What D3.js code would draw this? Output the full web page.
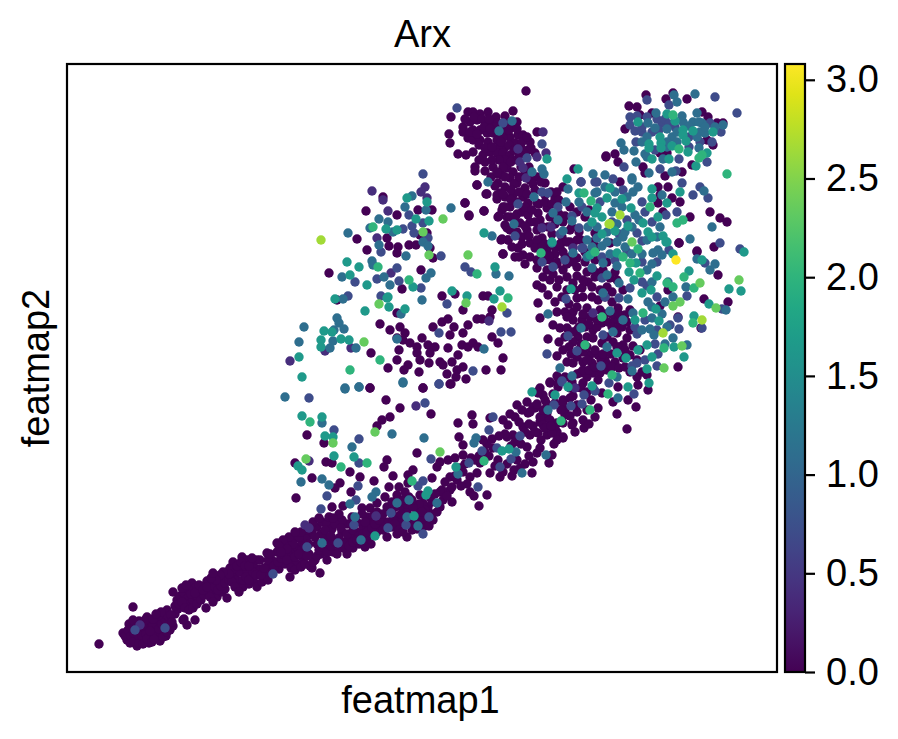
<!DOCTYPE html>
<html>
<head>
<meta charset="utf-8">
<script src="https://cdn.jsdelivr.net/npm/d3@7"></script>
<style>
html,body{margin:0;padding:0;background:#fff}
svg{display:block}
text{font-family:"Liberation Sans",Arial,sans-serif;fill:#000}
</style>
</head>
<body>
<svg id="chart" width="898" height="739"></svg>
<script>
// Embedding of single cells, coloured by Arx expression.
const geneName = "Arx";
const xLabel = "featmap1";
const yLabel = "featmap2";
const colorTicks = [0, 0.5, 1, 1.5, 2, 2.5, 3];
const exprMax = 3.08;

// Expression level of each group below; groups are painted low to high.
const exprLevels = [0, 0.4, 0.7, 1.1, 1.65, 2.0, 2.35, 2.65, 3.08];

const cellsL0 = [[32,28],[66,65],[56,39],[60,32],[62,48],[65,43],[63,29],[70,26],[69,35],[73,42],[77,50],[80,55],[78,44],[74,31],[82,29],[84,36],[87,42],[90,47],[92,52],[95,55],[97,59],[100,62],[94,40],[90,35],[93,31],[99,36],[103,42],[106,46],[103,52],[100,47],[97,44],[108,58],[111,63],[117,53],[128,52],[120,47],[106,80],[125,89],[139,64],[116,52],[160,74],
[110,72],[113,76],[117,79],[120,73],[123,68],[126,72],[130,75],[133,81],[137,86],[140,91],[128,84],[122,82],[144,87],[147,79],[150,75],[155,80],[158,83],[152,90],[157,94],[160,100],[163,104],[166,97],[170,92],[173,100],[176,106],[180,100],[184,95],[187,90],[171,86],[176,85],[182,88],[190,85],[195,90],[198,97],[192,103],[186,108],[190,112],[175,115],[166,110],[180,112],[193,112],[200,119],[210,129],[228,134],[223,95],[201,92],[253,99],[245,104],
[200,105],[205,112],[210,120],[215,125],[220,128],[225,120],[230,125],[235,130],[240,135],[245,140],[250,145],[255,150],[260,148],[265,143],[270,150],[275,140],[205,100],[212,103],[218,108],[224,112],[230,108],[236,114],[242,118],[248,112],[254,118],[260,112],[266,120],[272,126],[278,130],[284,135],[290,140],[296,146],[220,118],[235,122],[250,128],[262,132],[270,118],[280,118],[286,124],[292,128],[300,132],[306,138],[312,145],[318,150],
[303,284],[319,272],[333,264],[356,284],[364,258],[384,288],[323,255],[315,252],[310,246],[240,237],[257,229],[228,209],[259,210],[265,209],[245,194],[229,174],[283,200],[293,195],[273,189],[268,184],[307,191],[320,212],[317,205],[326,196],[322,185],[284,180],[276,166],[265,165],[295,164],[303,164],[310,169],[318,175],[330,177],[341,189],[346,202],[341,197],[350,219],[365,194],[361,165],[385,170],[373,165],[403,180],[407,176],[420,177],[412,166],[383,182],[375,182],[370,205],[373,210],[381,212],[388,214],[396,217],[396,227],[392,235],[391,249],[405,257],[406,248],[423,254],[425,233],[443,258],[450,267],[460,270],[468,264],[461,259],[441,247],[456,245],[446,237],[440,235],[463,237],[471,239],[480,237],[490,240],[496,234],[487,228],[473,224],[470,219],[466,210],[485,217],[482,209],[465,199],[445,196],[453,204],[426,224],[431,212],[433,195],[423,199],[413,209],[403,195],[410,199],[393,204],[383,195],[378,190],[356,169],[353,177],[363,175],[373,180],[476,277],[483,290],[491,285],[496,272],[503,274],[506,249],[498,262],[480,254],[473,250],[490,249],
[330,172],[335,165],[340,160],[345,155],[320,165],[325,160],[330,155],[335,150],[340,148],[345,142],[350,150],[355,145],[360,150],[365,158],[350,160],[340,168],[310,160],[315,150],[305,150],[300,155],[310,140],[300,145],[325,145],[330,138],[320,135],[340,135],[290,150],[295,158],[285,155],[280,148],[275,152],[268,148],[262,155],[272,158],
[299,461],[330,457],[290,433],[300,422],[262,399],[316,475],[320,434],[322,426],[331,425],[330,419],[342,427],[349,427],[353,437],[360,439],[365,462],[351,462],[363,424],[366,414],[354,402],[335,383],[375,376],[388,378],[398,469],[402,456],[417,461],[410,487],[419,478],[430,473],[433,479],[436,465],[440,455],[431,455],[440,444],[435,433],[441,432],[436,418],[396,362],[416,376],[421,376],[425,362],[423,355],[410,353],[415,353],[270,372],[313,348],[330,359],[323,342],[333,345],[338,339],[330,334],[336,332],[343,329],[355,334],[350,325],[361,327],[368,325],[366,345],[375,350],[381,353],[387,345],[383,337],[381,324],[395,327],[401,325],[406,329],[401,347],[396,339],[411,325],[425,335],[431,329],[332,322],[304,319],[330,312],[341,307],[337,302],[321,304],[352,300],[350,319],[353,312],[363,319],[362,309],[373,310],[376,307],[385,310],[391,317],[396,305],[390,302],[380,298],[389,295],[399,293],[419,302],[434,302],[436,314],[383,288],[356,284],[303,284],
[459,581],[384,555],[401,560],[406,560],[413,558],[421,560],[429,555],[438,556],[446,561],[396,545],[403,550],[410,552],[418,550],[425,549],[431,549],[396,540],[401,534],[406,542],[413,542],[420,539],[426,539],[382,538],[383,529],[406,532],[413,532],[421,530],[430,532],[438,539],[446,545],[451,537],[456,537],[443,535],[448,529],[438,525],[431,524],[463,530],[470,540],[461,522],[468,519],[391,518],[399,517],[406,520],[416,517],[423,520],[430,519],[436,519],[443,517],[450,512],[408,505],[408,501],[418,501],[426,505],[440,504],[446,500],[435,497],[443,494],[450,489],[458,484],[410,487],[431,489],[438,485],[420,478],[430,477],[438,475],[446,477],[456,475],[461,469],[470,469],[478,489],[463,492],[435,462],[432,456],[417,461],[402,457],[398,469],[443,465],[443,455],[455,460],[461,457],[471,459],[480,464],[488,474],[478,477],[496,485],[507,503],[539,516],[438,447],[453,449],[463,450],[473,452],[483,455],[481,445],[470,442],[460,442],[455,435],[434,432],[441,432],[451,424],[436,418],[456,417],[463,415],[463,429],[475,434],[503,442],[495,435],[480,422],[488,425],[506,425],[498,414],
[473,427],[483,412],[493,425],[503,415],[510,405],[480,402],[470,404],[496,402],[470,387],[475,384],[481,377],[488,370],[471,369],[473,354],[486,347],[493,344],[500,344],[498,360],[506,360],[515,352],[506,352],[520,364],[525,375],[516,375],[510,374],[506,389],[515,384],[521,390],[530,399],[536,402],[543,394],[526,402],[545,380],[538,375],[531,372],[533,362],[523,355],[518,345],[526,342],[535,349],[541,350],[548,352],[558,357],[551,364],[563,362],[511,335],[510,342],[506,330],[481,333],[490,316],[502,325],[520,335],[526,334],[550,339],[560,334],[563,342],[556,327],[546,330],[535,329],[531,317],[523,317],[516,320],[510,315],[500,310],[506,309],[516,310],[525,309],[538,312],[548,310],[556,314],[563,317],[573,322],[570,312],[563,300],[570,295],[575,300],[580,297],[571,287],[581,282],[611,305],[526,299],[533,299],[540,302],[513,299],[520,295],[531,292],[551,285],[526,284],[516,289],[483,289],[473,284],[491,289],[503,284],[508,284],[535,279],[546,270],[561,272],[569,265],[550,258],[560,243],[531,264],[528,255],[517,244],[505,247],[496,249],[466,265],[480,259],[473,255],[483,252],[476,247],[488,245],[468,240],[491,235],[485,239],[496,235],[498,257],[496,269],[478,272],[488,269],[510,267],[471,279],[463,260],[601,382],[637,373],[661,370],[651,397],[630,421],[647,425],[612,429],[634,344],[611,355],[593,366],[545,345],[552,325],[530,345],[540,335],[555,345],[520,325],[512,345],[500,355],[490,360],
[579,577],[599,573],[620,573],[606,579],[562,566],[570,565],[573,557],[585,559],[558,543],[635,560],[641,555],[656,549],[650,549],[646,527],[640,532],[598,496],[615,500],[625,507],[576,505],[578,499],[539,515],[548,518],[551,510],[600,519],[593,519],[553,490],[591,485],[601,485],[593,477],[591,469],[613,470],[605,474],[596,460],[623,455],[643,460],[653,454],[660,450],[612,429],[630,420],[528,439],[543,429],
// tighter packing where the cells pile up along the trunk and in the lobes
[58,36],[61,42],[64,36],[67,31],[72,29],[67,39],[71,37],[75,36],[79,38],[76,28],[80,33],[85,30],[81,47],[84,50],[86,46],[88,38],[92,43],[95,48],[98,53],[101,56],[104,57],[105,50],[96,35],[100,40],[87,33],[83,41],[68,47],[72,51],[75,46],[78,52],[66,52],[70,45],[91,56],[94,60],[86,53],[89,58],
[108,66],[112,68],[115,70],[118,64],[122,62],[126,64],[130,68],[134,72],[137,77],[141,80],[143,75],[146,70],[115,84],[119,87],[124,78],[128,79],[132,87],[136,82],[140,85],[148,85],[151,82],[154,86],[158,89],[162,92],[165,90],[168,85],[172,80],[176,92],[179,95],[182,92],[186,100],[189,97],[194,97],[197,104],[166,103],[170,106],[174,110],[178,106],[182,106],[185,114],[162,98],[156,100],[153,97],[149,92],[144,94],[146,99],
[201,112],[203,118],[207,106],[211,110],[214,114],[216,118],[220,112],[224,104],[228,115],[232,118],[228,102],[234,105],[238,108],[243,106],[246,110],[250,116],[252,122],[256,125],[260,120],[264,126],[268,130],[258,134],[254,138],[248,135],[242,128],[238,126],[232,135],[226,128],[222,135],[216,132],[212,126],[240,142],[234,140],[228,140],[246,150],[252,154],[258,142],[264,136],[272,134],[276,124],[282,126],[286,130],[274,144],[280,138],[286,142],[292,136],[296,138],[300,140],[304,128],[298,125],[290,132],[284,148],[266,154],[240,116],[220,123],[214,120],
[305,144],[308,148],[312,152],[316,142],[322,150],[326,152],[328,148],[332,142],[336,140],[342,150],[346,148],[350,143],[356,155],[358,146],[354,152],[362,146],[366,152],[370,160],[358,162],[352,168],[346,165],[342,175],[336,172],[325,170],[316,158],[306,156],[298,150],[334,158],[328,165],[338,180],[332,185],[345,172],[355,160],[365,170],[368,178],[376,172],[380,176],[385,185],[390,192],[396,200],[400,188],[394,186],[388,196],
[398,208],[404,214],[408,212],[412,216],[418,220],[422,216],[428,206],[436,200],[440,208],[447,202],[450,212],[458,208],[462,216],[460,225],[454,228],[448,230],[444,226],[438,238],[432,236],[420,228],[416,232],[458,240],[452,250],[448,255],[436,252],[466,246],[474,232],[478,244],[484,246],[490,232],[476,262],[470,268],[462,248],[455,262],[480,268],[486,278],[470,280],[494,262],[503,256],[510,260],[516,252],[522,248],[508,240],[520,262],[524,272],[506,276],[514,284],[520,280],
[490,296],[498,295],[505,290],[510,298],[516,302],[522,302],[528,305],[534,312],[540,308],[545,305],[552,304],[558,305],[520,312],[512,322],[504,318],[496,322],[492,330],[498,335],[505,340],[514,328],[528,322],[536,318],[544,318],[550,325],[558,322],[566,326],[560,350],[552,345],[545,358],[538,358],[530,352],[522,348],[516,358],[510,365],[502,368],[495,375],[500,382],[508,382],[516,392],[525,385],[533,382],[540,385],[550,392],[556,382],[545,370],[552,358],[490,385],[483,392],[476,395],[486,398],[492,392],[500,395],[510,396],[520,400],[528,395],[535,395],[548,400],[478,412],[488,418],[500,408],[510,414],[518,410],[528,412],[540,410],[470,412],[477,418],[490,408],[496,420],[506,410],[518,420],[530,425],[526,430],[514,432],[503,430],
[445,512],[454,505],[458,498],[462,505],[470,495],[466,488],[474,490],[452,495],[447,488],[438,495],[430,498],[424,495],[428,486],[436,478],[444,482],[452,480],[460,478],[468,482],[450,470],[444,472],[438,465],[450,458],[458,465],[465,462],[472,468],[478,470],[484,480],[490,480],[492,472],[485,468],[492,458],[496,450],[505,445],[512,440],[510,460],[518,455],[522,462],[503,465],[498,456],[488,448],[476,445],[468,450],[458,446],[448,455],[443,442],[450,440],[462,436],[470,432],[478,428],[485,438],[493,428],[500,430],[510,432],[455,428],[448,415],[468,424],[475,425],[482,416],[490,410],[458,408],[445,425],[452,415],
[398,553],[407,555],[415,553],[422,553],[428,545],[434,543],[440,548],[450,550],[403,540],[410,538],[417,545],[423,543],[430,540],[436,534],[442,542],[450,543],[455,530],[460,535],[412,527],[418,524],[425,525],[434,530],[442,527],[447,522],[454,524],[458,518],[464,524],[438,512],[432,512],[425,512],[418,510],[412,512],[444,510],[452,518],[436,505],[430,500]];

const cellsL1 = [[73,47],[238,147],[242,144],[242,211],[309,156],[349,266],[508,284],[305,481],[316,472],[358,485],[354,480],[360,474],[321,461],[310,434],[324,399],[258,321],[284,324],[223,311],[422,351],[476,540],[451,523],[479,519],[470,515],[453,510],[456,504],[459,494],[514,490],[484,445],[475,444],[506,424],[526,359]];

const cellsL2 = [[68,42],[98,44],[206,98],[240,125],[271,129],[242,274],[372,288],[267,242],[292,233],[292,209],[291,186],[260,176],[254,163],[289,172],[358,269],[364,213],[402,209],[356,191],[351,186],[411,185],[324,159],[287,147],[362,155],[339,147],[356,138],[321,144],[426,255],[422,242],[415,221],[430,224],[444,213],[433,205],[453,236],[504,266],[495,290],[487,267],[356,498],[342,457],[336,443],[345,446],[356,449],[347,439],[361,434],[314,420],[374,416],[330,404],[288,390],[310,393],[332,391],[354,384],[398,405],[404,400],[281,376],[314,376],[440,359],[372,339],[372,288],[406,301],[434,340],[444,340],[380,368],[390,564],[436,549],[475,528],[460,514],[514,490],[528,490],[475,480],[481,479],[451,468],[491,465],[505,456],[512,444],[493,438],[448,436],[516,424],[648,575],[670,559],[580,572],[602,567],[563,555],[563,547],[568,541],[575,540],[595,549],[643,549],[654,540],[633,530],[569,530],[612,513],[557,505],[640,510],[593,503],[609,501],[615,489],[633,485],[626,477],[641,474],[610,460],[599,457],[653,429],[673,423],[546,493],[530,490],[556,482],[578,460],[570,439],[575,431],[602,422],[475,410],[486,405],[498,412],[515,424],[535,394],[580,386],[563,384],[538,375],[499,373],[552,374],[603,347],[611,354],[612,343],[588,328],[591,318],[590,306],[578,312],[570,309],[565,306],[534,306],[536,337],[570,338],[501,336],[510,321],[480,318],[495,291],[542,289],[517,277],[528,281],[567,278],[515,268],[638,409],[620,376],[655,363],[635,344],
[570,556],[580,555],[590,553],[598,553],[608,545],[575,545],[585,540],[592,542],[602,548],[622,535],[588,522],[622,525],[645,530],[533,470],[545,450],[560,452],[575,470],[585,450],[552,438],[515,465],[535,415],[548,412],[560,420],[575,410],[590,410],[575,390],[590,375],[578,352],[590,342],[568,345]];

const cellsL3 = [[255,129],[218,275],[278,283],[292,285],[336,289],[255,249],[325,238],[285,225],[234,190],[255,193],[262,187],[283,168],[309,180],[305,175],[357,234],[391,198],[342,172],[330,169],[370,169],[288,155],[340,155],[351,146],[294,132],[409,234],[407,229],[449,220],[455,199],[481,262],[479,217],[345,476],[384,464],[359,462],[338,465],[312,453],[321,450],[303,444],[326,440],[281,439],[356,430],[361,426],[312,427],[339,416],[425,436],[421,490],[305,411],[306,407],[275,395],[317,395],[323,387],[359,394],[364,399],[429,398],[442,396],[276,373],[334,358],[355,372],[237,345],[270,354],[272,349],[277,343],[267,342],[263,324],[266,331],[289,324],[330,333],[232,330],[336,290],[278,284],[292,285],[417,323],[445,551],[432,541],[465,500],[475,503],[477,498],[501,483],[526,498],[538,497],[467,475],[499,470],[486,459],[491,452],[505,451],[528,479],[521,445],[496,441],[447,448],[520,432],[530,434],[535,426],[506,419],[628,578],[607,577],[610,570],[589,559],[581,549],[588,544],[600,543],[616,550],[626,550],[630,559],[635,549],[656,547],[638,539],[633,540],[580,535],[605,535],[554,529],[557,522],[567,521],[578,518],[596,513],[569,510],[582,499],[605,500],[565,494],[571,485],[565,492],[637,481],[645,445],[623,433],[566,480],[560,475],[548,469],[595,477],[568,457],[593,445],[556,435],[558,425],[591,422],[586,419],[595,417],[543,418],[485,429],[520,415],[525,404],[536,409],[550,406],[540,397],[580,402],[585,408],[552,389],[536,379],[561,373],[581,370],[543,361],[481,358],[566,359],[556,352],[585,354],[583,343],[606,334],[587,337],[620,327],[540,325],[546,340],[514,344],[493,304],[505,296],[550,295],[565,301],[551,274],[630,413],[643,402],[648,408],[601,390],[619,385],[606,375],[659,362],
[615,556],[622,546],[632,550],[638,545],[648,545],[610,540],[630,535],[600,530],[610,530],[575,530],[600,525],[632,524],[580,515],[530,480],[538,485],[548,480],[555,465],[545,460],[540,440],[550,448],[558,440],[565,445],[572,452],[580,432],[590,435],[575,418],[565,418],[550,430],[540,430],[530,445],[520,460],[512,470],[525,425],[585,390],[598,370],[595,358],[600,345],[585,365],[598,328],[575,342]];

const cellsL4 = [[235,256],[255,255],[258,236],[266,235],[267,216],[287,215],[231,206],[235,202],[389,205],[361,181],[359,177],[347,156],[308,136],[435,221],[442,223],[465,280],[488,277],[501,285],[340,474],[360,470],[349,453],[362,451],[319,443],[330,442],[417,439],[280,410],[292,405],[283,397],[300,387],[346,385],[428,405],[268,373],[321,375],[320,374],[322,365],[338,363],[298,361],[385,381],[400,376],[427,373],[433,381],[265,340],[257,341],[254,332],[254,325],[274,333],[282,332],[232,315],[235,295],[480,513],[511,503],[500,493],[512,479],[540,474],[530,464],[528,459],[535,455],[525,450],[485,430],[535,438],[600,558],[608,551],[571,550],[616,542],[626,541],[646,540],[593,535],[616,537],[619,531],[582,528],[594,529],[605,526],[582,524],[594,524],[621,520],[640,519],[585,513],[602,513],[629,506],[613,480],[677,420],[543,484],[585,483],[585,474],[555,473],[600,469],[591,455],[561,446],[564,464],[576,449],[581,440],[596,436],[585,435],[548,441],[600,430],[606,418],[523,417],[550,419],[569,409],[562,400],[590,396],[567,392],[504,383],[584,382],[575,379],[589,363],[568,352],[592,351],[571,322],[580,327],[607,325],[617,315],[585,315],[580,303],[582,289],[561,285],[550,319],[559,314],[525,286],[622,401],[635,412],[662,383],[674,381],[642,368],[627,356],[599,430]];

const cellsL5 = [[243,250],[300,209],[274,205],[345,191],[417,211],[494,251],[306,445],[311,405],[342,392],[410,398],[441,374],[313,312],[283,302],[517,479],[524,471],[528,420],[474,419],[606,557],[612,523],[635,517],[632,514],[660,498],[616,452],[610,449],[583,465],[571,423],[556,415],[563,409],[573,399],[576,359],[535,355],[597,324],[518,327],[545,297],[541,278],[523,262],[617,395],[600,389],[606,385],[627,384],[626,349]];

const cellsL6 = [[239,213],[266,229],[308,240],[373,220],[376,453],[356,440],[362,417],[401,417],[312,368],[399,369],[297,330],[565,430],[615,326],[597,304],[633,389],[672,392],[613,370],[606,366],[649,364]];

const cellsL7 = [[254,432],[435,365],[553,457],[543,448],[542,448],[596,339],[635,352]];

const cellsL8 = [[609,412]];

const cellsByLevel = [cellsL0, cellsL1, cellsL2, cellsL3, cellsL4, cellsL5, cellsL6, cellsL7, cellsL8];

const frame = {left: 67, top: 64, right: 777, bottom: 672};
const bar = {left: 785, right: 805};
const fontSize = 38;

const svg = d3.select("#chart");
const x = d3.scaleLinear().domain([0, 710]).range([frame.left, frame.right]);
const y = d3.scaleLinear().domain([0, 608]).range([frame.bottom, frame.top]);
const colorScale = d3.scaleSequential(d3.interpolateViridis).domain([0, exprMax]);
const barScale = d3.scaleLinear().domain([0, exprMax]).range([frame.bottom, frame.top]);

// Scatter, low expression underneath
const dots = svg.append("g");
exprLevels.forEach((level, i) => {
  dots.selectAll(null)
    .data(cellsByLevel[i])
    .join("circle")
    .attr("cx", d => x(d[0]))
    .attr("cy", d => y(d[1]))
    .attr("r", 4.7)
    .attr("fill", colorScale(level));
});

// Plot frame
svg.append("rect")
  .attr("x", frame.left).attr("y", frame.top)
  .attr("width", frame.right - frame.left)
  .attr("height", frame.bottom - frame.top)
  .attr("fill", "none").attr("stroke", "#000").attr("stroke-width", 2.2);

// Titles
svg.append("text").attr("x", (frame.left + frame.right) / 2 + 0.5).attr("y", 47)
  .attr("text-anchor", "middle").attr("font-size", fontSize).text(geneName);
svg.append("text").attr("x", (frame.left + frame.right) / 2 - 1.5).attr("y", 713)
  .attr("text-anchor", "middle").attr("font-size", fontSize).text(xLabel);
svg.append("text")
  .attr("transform", `translate(49,${(frame.top + frame.bottom) / 2}) rotate(-90)`)
  .attr("text-anchor", "middle").attr("font-size", fontSize).text(yLabel);

// Colour bar
const grad = svg.append("defs").append("linearGradient")
  .attr("id", "viridisRamp").attr("x1", 0).attr("x2", 0).attr("y1", 1).attr("y2", 0);
d3.range(0, 1.0001, 0.05).forEach(t => {
  grad.append("stop").attr("offset", t).attr("stop-color", d3.interpolateViridis(t));
});
svg.append("rect")
  .attr("x", bar.left).attr("y", frame.top)
  .attr("width", bar.right - bar.left).attr("height", frame.bottom - frame.top)
  .attr("fill", "url(#viridisRamp)").attr("stroke", "#000").attr("stroke-width", 2.2);

const barAxis = d3.axisRight(barScale)
  .tickValues(colorTicks)
  .tickFormat(d3.format(".1f"))
  .tickSize(10)
  .tickPadding(11);
const barG = svg.append("g").attr("transform", `translate(${bar.right},0)`).call(barAxis);
barG.select(".domain").remove();
barG.selectAll("line").attr("stroke", "#000").attr("stroke-width", 2.2);
barG.selectAll("text").attr("font-size", fontSize).attr("font-family", '"Liberation Sans",Arial,sans-serif');
</script>
</body>
</html>
